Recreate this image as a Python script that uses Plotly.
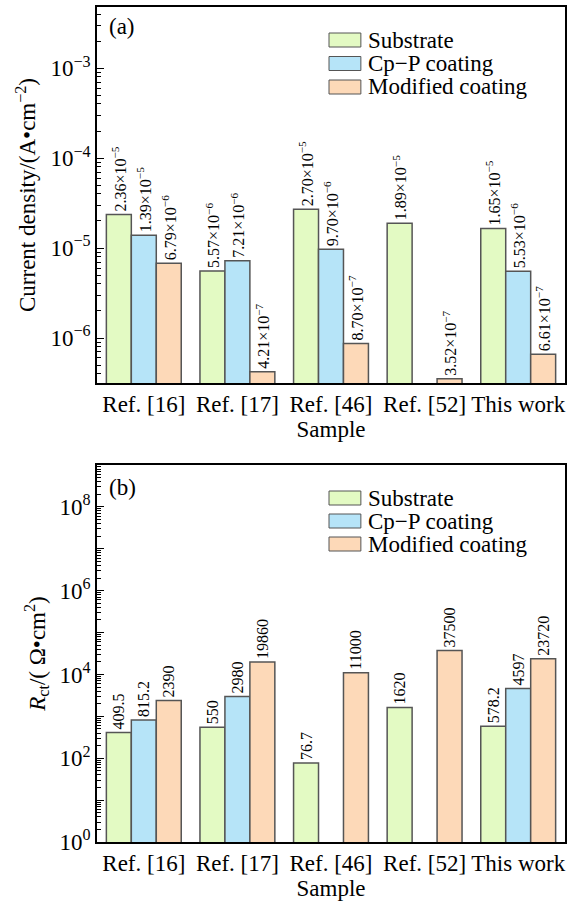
import math
import plotly.graph_objects as go

categories = ["Ref. [16]", "Ref. [17]", "Ref. [46]", "Ref. [52]", "This work"]
series_names = ["Substrate", "Cp\u2212P coating", "Modified coating"]

icorr_substrate = [2.36e-5, 5.57e-6, 2.70e-5, 1.89e-5, 1.65e-5]
icorr_cpp = [1.39e-5, 7.21e-6, 9.70e-6, None, 5.53e-6]
icorr_modified = [6.79e-6, 4.21e-7, 8.70e-7, 3.52e-7, 6.61e-7]

rct_substrate = [409.5, 550, 76.7, 1620, 578.2]
rct_cpp = [815.2, 2980, None, None, 4597]
rct_modified = [2390, 19860, 11000, 37500, 23720]

colors = ["#e3fac3", "#b6e4f8", "#fdd9b8"]
edge = "#555555"
FONT = "'Liberation Serif', 'Times New Roman', Tinos, 'DejaVu Serif', serif"

W, H = 572, 904
ML, MR, MT, MB = 97, 5, 7, 62
PW, PH = W - ML - MR, H - MT - MB


def px_x(x):
    return (x - ML) / PW


def px_y(y):
    return (H - MB - y) / PH


def sci(v):
    if v is None:
        return ""
    e = math.floor(math.log10(v))
    m = v / 10 ** e
    return f"{m:.2f}\u00d710<sup>\u2212{-e}</sup>"


def plain(v):
    return "" if v is None else f"{v:g}"


fig = go.Figure()

top_series = [icorr_substrate, icorr_cpp, icorr_modified]
bot_series = [rct_substrate, rct_cpp, rct_modified]

for i, (name, vals) in enumerate(zip(series_names, top_series)):
    fig.add_trace(go.Bar(
        x=categories, y=vals, name=name, xaxis="x", yaxis="y",
        marker=dict(color=colors[i], line=dict(color=edge, width=1.5)),
        text=[sci(v) for v in vals], textposition="outside", textangle=-90,
        constraintext="none", cliponaxis=False,
        textfont=dict(family=FONT, size=16, color="black"),
        showlegend=False,
    ))

for i, (name, vals) in enumerate(zip(series_names, bot_series)):
    fig.add_trace(go.Bar(
        x=categories, y=vals, name=name, xaxis="x2", yaxis="y2",
        marker=dict(color=colors[i], line=dict(color=edge, width=1.5)),
        text=[plain(v) for v in vals], textposition="outside", textangle=-90,
        constraintext="none", cliponaxis=False,
        textfont=dict(family=FONT, size=16, color="black"),
        showlegend=False,
    ))

top_major = [10.0 ** k for k in range(-6, -2)]
top_minor = [m * 10.0 ** k for k in range(-7, -2) for m in range(2, 10)]
bot_major = [10.0 ** k for k in range(0, 10)]
bot_minor = [m * 10.0 ** k for k in range(0, 9) for m in range(2, 10)]


def yaxis(domain, rng, major, labels, minor, title):
    return dict(
        domain=domain, type="log", range=rng,
        tickmode="array", tickvals=major, ticktext=labels,
        ticks="inside", ticklen=7, tickwidth=1.3, tickcolor="black",
        minor=dict(tickmode="array", tickvals=minor, ticks="inside", ticklen=4,
                   tickwidth=1, tickcolor="black", showgrid=False),
        showline=True, linecolor="black", linewidth=1.5, mirror=True,
        showgrid=False, zeroline=False,
        tickfont=dict(family=FONT, size=23, color="black"),
        title=dict(text=title, font=dict(family=FONT, size=23, color="black"), standoff=8),
    )


def xaxis(anchor):
    return dict(
        domain=[0, 1], anchor=anchor,
        showline=True, linecolor="black", linewidth=1.5, mirror=True,
        ticks="", showgrid=False,
        tickfont=dict(family=FONT, size=23, color="black"),
        title=dict(text="Sample", font=dict(family=FONT, size=23, color="black"), standoff=2),
    )


top_labels = [f"10<sup>\u2212{-k}</sup>" for k in range(-6, -2)]
bot_labels = [f"10<sup>{k}</sup>" if k % 2 == 0 else "" for k in range(0, 10)]

shapes = []
annotations = []
for centers in ([40, 63.5, 87], [498, 521, 544]):
    for i, cy in enumerate(centers):
        shapes.append(dict(type="rect", xref="paper", yref="paper",
                           x0=px_x(330), x1=px_x(362), y0=px_y(cy + 7), y1=px_y(cy - 7),
                           fillcolor=colors[i], line=dict(color=edge, width=1)))
        annotations.append(dict(text=series_names[i], xref="paper", yref="paper",
                                x=px_x(367), y=px_y(cy), xanchor="left", yanchor="middle",
                                showarrow=False,
                                font=dict(family=FONT, size=23, color="black")))

annotations.append(dict(text="(a)", x=px_x(107), y=px_y(27), xref="paper", yref="paper",
                        xanchor="left", yanchor="middle", showarrow=False,
                        font=dict(family=FONT, size=23, color="black")))
annotations.append(dict(text="(b)", x=px_x(107), y=px_y(487), xref="paper", yref="paper",
                        xanchor="left", yanchor="middle", showarrow=False,
                        font=dict(family=FONT, size=23, color="black")))

fig.update_layout(
    width=W, height=H,
    margin=dict(l=ML, r=MR, t=MT, b=MB),
    paper_bgcolor="white", plot_bgcolor="white",
    barmode="group", bargap=0.2, bargroupgap=0,
    font=dict(family=FONT, size=23, color="black"),
    showlegend=False,
    xaxis=xaxis("y"),
    xaxis2=xaxis("y2"),
    yaxis=yaxis([px_y(383), 1.0], [-6.5, -2.32], top_major, top_labels, top_minor,
                "Current density/(A\u2022cm<sup>\u22122</sup>)"),
    yaxis2=yaxis([0.0, px_y(465)], [0, 9], bot_major, bot_labels, bot_minor,
                 "<i>R</i><sub>ct</sub>/( \u03a9\u2022cm<sup>2</sup>)"),
    shapes=shapes,
    annotations=annotations,
)

fig.write_html("out.html")
